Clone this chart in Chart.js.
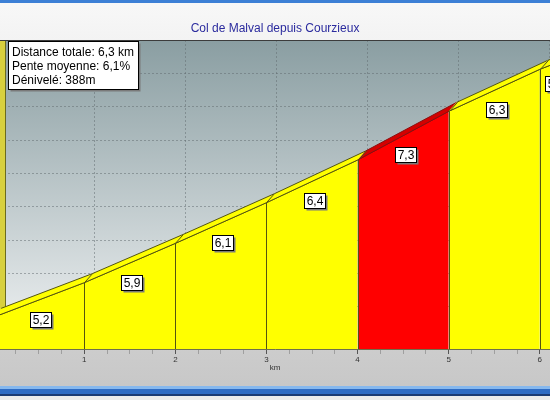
<!DOCTYPE html>
<html lang="fr">
  <head>
    <meta charset="UTF-8" />
    <meta name="viewport" content="width=device-width, initial-scale=1.0" />
    <script src="https://cdn.jsdelivr.net/npm/chart.js@4.4.0/dist/chart.umd.min.js"></script>
    <title>Col de Malval depuis Courzieux</title>
    <style>
      body {
        margin: 0;
        padding: 0;
        background: #e8e8e8;
      }
    </style>
  </head>
  <body>
    <canvas id="profil" width="550" height="400"></canvas>
    <script>
      // profil: bornes kilometriques, altitudes (m), pente de chaque km (%)
      const kmMarks = [0, 1, 2, 3, 4, 5, 6, 6.3]
      const altitudes = [334, 386, 445, 506, 570, 643, 706, 722]
      const pentes = [5.2, 5.9, 6.1, 6.4, 7.3, 6.3, 5.3]
      const kmLabels = ['1', '2', '3', '4', '5', '6']
      const titre = 'Col de Malval depuis Courzieux'
      const infoLines = ['Distance totale: 6,3 km', 'Pente moyenne: 6,1%', 'Dénivelé: 388m']

      const FONT = '"Liberation Sans", Arial, sans-serif'
      const DX = 8
      const DY = 9
      const gridColor = 'rgba(95, 105, 110, 0.5)'

      const isKm = (v) => Math.abs(v - Math.round(v)) < 1e-6
      const penteColor = (p) => (p >= 7 ? '#ff0000' : '#ffff00')
      const ribbonColor = (p) => (p >= 7 ? '#d40000' : '#ffff00')
      const edgeColor = (p) => (p >= 7 ? '#8a1010' : '#55550f')
      const fmt = (p) => p.toFixed(1).replace('.', ',')

      const datasets = pentes.map((p, i) => ({
        data: [
          { x: kmMarks[i], y: altitudes[i] },
          { x: kmMarks[i + 1], y: altitudes[i + 1] },
        ],
        backgroundColor: penteColor(p),
        borderColor: edgeColor(p),
        borderWidth: 1,
        pointRadius: 0,
        fill: 'start',
        tension: 0,
      }))

      const fond = {
        id: 'fond',
        beforeDraw(chart) {
          const { ctx, chartArea: a, width, height } = chart
          ctx.save()
          const g = ctx.createLinearGradient(0, 0, 0, height)
          g.addColorStop(0, '#f8f8f8')
          g.addColorStop(1, '#c6c6c6')
          ctx.fillStyle = g
          ctx.fillRect(0, 0, width, height)
          const pg = ctx.createLinearGradient(0, a.top, 0, a.bottom)
          pg.addColorStop(0, '#8a9ea2')
          pg.addColorStop(1, '#f1f3f4')
          ctx.fillStyle = pg
          ctx.fillRect(a.left, a.top, a.right - a.left, a.bottom - a.top)
          // cadre bleu
          ctx.fillStyle = '#3d80d6'
          ctx.fillRect(0, 0, width, 3)
          ctx.fillStyle = '#86b8ee'
          ctx.fillRect(0, 386, width, 3)
          ctx.fillStyle = '#2f6cc4'
          ctx.fillRect(0, 389, width, 5)
          ctx.fillStyle = '#1b3b74'
          ctx.fillRect(0, 394, width, 2)
          ctx.fillStyle = '#ececec'
          ctx.fillRect(0, 396, width, 4)
          ctx.restore()
        },
        beforeDatasetsDraw(chart) {
          const { ctx, chartArea: a } = chart
          ctx.save()
          ctx.fillStyle = '#d8d03e'
          ctx.fillRect(a.left, a.top, 6, a.bottom - a.top)
          ctx.strokeStyle = '#6b6b1e'
          ctx.beginPath()
          ctx.moveTo(a.left + 5.5, a.top)
          ctx.lineTo(a.left + 5.5, a.bottom)
          ctx.stroke()
          ctx.restore()
        },
      }

      const relief = {
        id: 'relief',
        afterDatasetsDraw(chart) {
          const { ctx, chartArea: a, scales } = chart
          const px = (i) => scales.x.getPixelForValue(kmMarks[i])
          const py = (i) => scales.y.getPixelForValue(altitudes[i])
          ctx.save()
          ctx.beginPath()
          ctx.rect(a.left, a.top, a.right - a.left, a.bottom - a.top)
          ctx.clip()
          ctx.lineWidth = 1
          pentes.forEach((p, i) => {
            const x0 = px(i), y0 = py(i), x1 = px(i + 1), y1 = py(i + 1)
            ctx.beginPath()
            ctx.moveTo(x0, y0)
            ctx.lineTo(x1, y1)
            ctx.lineTo(x1 + DX, y1 - DY)
            ctx.lineTo(x0 + DX, y0 - DY)
            ctx.closePath()
            ctx.fillStyle = ribbonColor(p)
            ctx.fill()
            ctx.strokeStyle = edgeColor(p)
            ctx.beginPath()
            ctx.moveTo(x0, y0)
            ctx.lineTo(x1, y1)
            ctx.moveTo(x0 + DX, y0 - DY)
            ctx.lineTo(x1 + DX, y1 - DY)
            ctx.stroke()
          })
          ctx.strokeStyle = '#55550f'
          for (let i = 1; i < kmMarks.length - 1; i++) {
            const x1 = Math.round(px(i)) + 0.5, y1 = py(i)
            ctx.beginPath()
            ctx.moveTo(x1, a.bottom)
            ctx.lineTo(x1, y1)
            ctx.lineTo(x1 + DX, y1 - DY)
            ctx.stroke()
          }
          ctx.restore()

          // etiquettes de pente
          ctx.save()
          ctx.font = '12px ' + FONT
          ctx.textAlign = 'center'
          ctx.textBaseline = 'middle'
          pentes.forEach((p, i) => {
            const cx = (px(i) + px(i + 1)) / 2 + 2
            const cy = (py(i) + py(i + 1)) / 2 + 19
            const txt = fmt(p)
            const w = Math.round(ctx.measureText(txt).width) + 4
            const h = 15
            const l = Math.round(cx - w / 2) + 0.5
            const t = Math.round(cy - h / 2) + 0.5
            ctx.fillStyle = '#7a7a7a'
            ctx.fillRect(l + 2, t + 2, w, h)
            ctx.fillStyle = '#ffffff'
            ctx.fillRect(l, t, w, h)
            ctx.strokeStyle = '#000000'
            ctx.strokeRect(l, t, w, h)
            ctx.fillStyle = '#000000'
            ctx.fillText(txt, l + w / 2, t + h / 2 + 0.5)
          })
          // bord superieur
          ctx.strokeStyle = '#3c3c3c'
          ctx.beginPath()
          ctx.moveTo(a.left, a.top + 0.5)
          ctx.lineTo(a.right, a.top + 0.5)
          ctx.stroke()
          ctx.restore()
        },
        afterDraw(chart) {
          const { ctx } = chart
          ctx.save()
          ctx.font = '12px ' + FONT
          ctx.fillStyle = '#7a7a7a'
          ctx.fillRect(10.5, 43.5, 130, 48)
          ctx.fillStyle = '#ffffff'
          ctx.fillRect(8.5, 41.5, 130, 48)
          ctx.strokeStyle = '#000000'
          ctx.strokeRect(8.5, 41.5, 130, 48)
          ctx.fillStyle = '#000000'
          ctx.textBaseline = 'middle'
          infoLines.forEach((line, i) => {
            ctx.fillText(line, 12, 53 + i * 13.7)
          })
          ctx.restore()
        },
      }

      const ctxProfil = document.getElementById('profil').getContext('2d')
      Chart.defaults.font.family = FONT
      const chartProfil = new Chart(ctxProfil, {
        type: 'line',
        data: { datasets },
        plugins: [fond, relief],
        options: {
          responsive: false,
          animation: false,
          layout: { padding: 0 },
          plugins: {
            legend: { display: false },
            tooltip: { enabled: false },
            title: {
              display: true,
              text: titre,
              color: '#2b2b9e',
              font: { size: 12, weight: 'normal' },
              padding: { top: 21, bottom: 4.6 },
            },
          },
          scales: {
            x: {
              type: 'linear',
              min: 0.075,
              max: 6.112,
              afterFit: (s) => {
                s.height = 51
              },
              grid: {
                drawOnChartArea: false,
                tickLength: 5,
                tickColor: (c) => (isKm(c.tick.value) ? '#555555' : 'rgba(0,0,0,0.22)'),
              },
              border: { color: '#6f6f4a' },
              ticks: {
                stepSize: 0.25,
                includeBounds: false,
                autoSkip: false,
                maxRotation: 0,
                padding: 1,
                color: '#333333',
                font: { size: 8 },
                callback: (v) => (isKm(v) && v > 0.5 ? kmLabels[Math.round(v) - 1] : ''),
              },
              title: {
                display: true,
                text: 'km',
                color: '#333333',
                font: { size: 8 },
                padding: { top: 0, bottom: 27 },
              },
            },
            xg: {
              type: 'linear',
              position: 'bottom',
              min: 0.075 - 0.11,
              max: 6.112 - 0.11,
              afterFit: (s) => {
                s.height = 0
              },
              ticks: { display: false, stepSize: 1, includeBounds: false },
              grid: {
                drawTicks: false,
                color: (c) => (isKm(c.tick.value) && c.tick.value > 0.5 ? gridColor : 'rgba(0,0,0,0)'),
              },
              border: { display: false, dash: [2, 2] },
            },
            y: {
              min: 286.5,
              max: 750,
              afterFit: (s) => {
                s.width = 0
              },
              ticks: { display: false, stepSize: 50 },
              grid: { drawTicks: false, color: gridColor },
              border: { display: false, dash: [2, 2] },
            },
          },
        },
      })
    </script>
  </body>
</html>
